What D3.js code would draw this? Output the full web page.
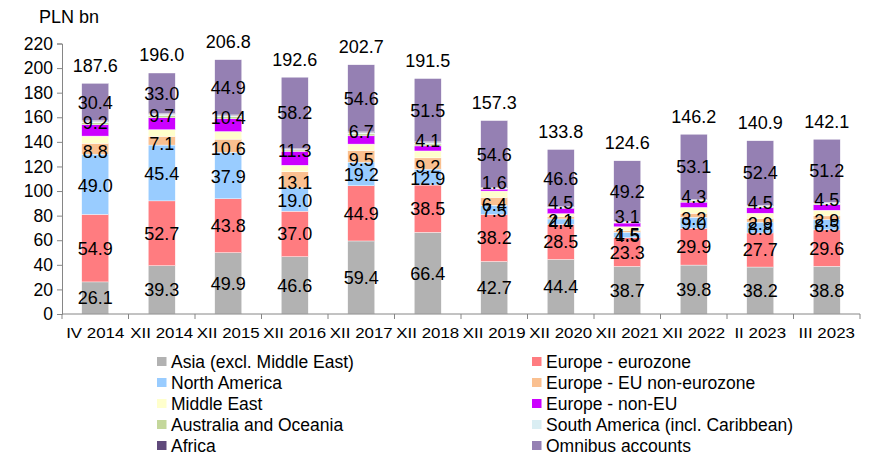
<!DOCTYPE html>
<html lang="en">
<head>
  <meta charset="UTF-8">
  <title>Foreign holders - PLN bn</title>
  <style>
    html, body {
      margin: 0;
      background-color: #ffffff;
    }
    svg text {
      font-family: "Liberation Sans", Arial, sans-serif;
      fill: #000;
    }
  </style>
</head>
<body>
  <svg class="chart" width="870" height="459"></svg>

  <script src="https://cdnjs.cloudflare.com/ajax/libs/d3/7.8.5/d3.min.js"></script>
  <script>
    const categories = ['IV 2014', 'XII 2014', 'XII 2015', 'XII 2016', 'XII 2017', 'XII 2018',
      'XII 2019', 'XII 2020', 'XII 2021', 'XII 2022', 'II 2023', 'III 2023'];

    // series, bottom of the stack first
    const asia = [26.1, 39.3, 49.9, 46.6, 59.4, 66.4, 42.7, 44.4, 38.7, 39.8, 38.2, 38.8];
    const eurozone = [54.9, 52.7, 43.8, 37.0, 44.9, 38.5, 38.2, 28.5, 23.3, 29.9, 27.7, 29.6];
    const northAmerica = [49.0, 45.4, 37.9, 19.0, 19.2, 12.9, 7.5, 4.4, 4.5, 9.0, 8.8, 8.5];
    const euNonEurozone = [8.8, 7.1, 10.6, 13.1, 9.5, 9.2, 6.4, 2.1, 1.5, 3.2, 2.9, 2.9];
    const middleEast = [5.9, 5.4, 6.2, 5.3, 5.2, 5.6, 5.2, 2.2, 2.9, 4.8, 4.4, 4.6];
    const europeNonEu = [9.2, 9.7, 10.4, 11.3, 6.7, 4.1, 1.6, 4.5, 3.1, 4.3, 4.5, 4.5];
    const southAmerica = [1.2, 1.2, 1.0, 0.6, 1.1, 1.2, 0.4, 0.4, 0.5, 0.7, 0.7, 0.7];
    const australia = [1.6, 1.7, 1.6, 1.1, 1.6, 1.6, 0.5, 0.5, 0.6, 1.0, 0.9, 0.9];
    const africa = [0.5, 0.5, 0.5, 0.4, 0.5, 0.5, 0.2, 0.2, 0.3, 0.4, 0.4, 0.4];
    const omnibus = [30.4, 33.0, 44.9, 58.2, 54.6, 51.5, 54.6, 46.6, 49.2, 53.1, 52.4, 51.2];
    const totals = [187.6, 196.0, 206.8, 192.6, 202.7, 191.5, 157.3, 133.8, 124.6, 146.2, 140.9, 142.1];

    const yTicks = [0, 20, 40, 60, 80, 100, 120, 140, 160, 180, 200, 220];

    // labelShift: nudge (px) of the in-bar value labels, as placed in the original
    const series = [
      { key: 'asia', name: 'Asia (excl. Middle East)', values: asia, color: '#b2b2b2', label: true, labelShift: 0 },
      { key: 'eurozone', name: 'Europe - eurozone', values: eurozone, color: '#ff7c80', label: true, labelShift: 0 },
      { key: 'northAmerica', name: 'North America', values: northAmerica, color: '#99ccff', label: true, labelShift: 1 },
      { key: 'euNonEurozone', name: 'Europe - EU non-eurozone', values: euNonEurozone, color: '#fac090', label: true, labelShift: 3 },
      { key: 'middleEast', name: 'Middle East', values: middleEast, color: '#ffffcc', label: false },
      { key: 'europeNonEu', name: 'Europe - non-EU', values: europeNonEu, color: '#cc00ff', label: true, labelShift: -8 },
      { key: 'australia', name: 'Australia and Oceania', values: australia, color: '#c4d79b', label: false },
      { key: 'southAmerica', name: 'South America (incl. Caribbean)', values: southAmerica, color: '#daeef3', label: false },
      { key: 'africa', name: 'Africa', values: africa, color: '#604a7b', label: false },
      { key: 'omnibus', name: 'Omnibus accounts', values: omnibus, color: '#9580b3', label: true, labelShift: 0 }
    ];

    const rows = categories.map((c, i) => {
      const row = { category: c };
      series.forEach(s => { row[s.key] = s.values[i]; });
      return row;
    });

    const svg = d3.select('svg.chart');
    const x = d3.scaleBand()
      .domain(categories)
      .range([62, 860])
      .paddingInner(0.594)
      .paddingOuter(0.297);
    const y = d3.scaleLinear()
      .domain([0, 220])
      .range([314, 43.5]);

    const stack = d3.stack().keys(series.map(s => s.key));
    const stacked = stack(rows);

    /**
     * Bars
     */
    const layers = svg.append('g').attr('class', 'bars')
      .selectAll('g')
      .data(stacked)
      .join('g')
      .attr('fill', (d, i) => series[i].color);

    layers.selectAll('rect')
      .data(d => d)
      .join('rect')
      .attr('x', d => x(d.data.category))
      .attr('width', x.bandwidth())
      .attr('y', d => y(d[1]))
      .attr('height', d => y(d[0]) - y(d[1]))
      .attr('stroke', '#ffffff')
      .attr('stroke-width', 0.4);

    /**
     * Axes
     */
    const yAxis = svg.append('g')
      .attr('transform', 'translate(62,0)')
      .call(d3.axisLeft(y).tickValues(yTicks).tickSize(5).tickPadding(4).tickFormat(d3.format('d')));
    yAxis.select('.domain').attr('stroke', '#868686');
    yAxis.selectAll('.tick line').attr('stroke', '#868686');
    yAxis.selectAll('.tick text')
      .attr('font-size', 17.5)
      .attr('font-family', '"Liberation Sans", Arial, sans-serif');

    const xAxis = svg.append('g')
      .attr('transform', 'translate(0,314)')
      .call(d3.axisBottom(x).tickSize(0).tickPadding(13));
    xAxis.select('.domain').attr('stroke', '#868686').attr('d', 'M62,0H860');
    xAxis.selectAll('.tick text')
      .attr('font-size', 15.5)
      .attr('transform', 'scale(1.09,1)')
      .attr('font-family', '"Liberation Sans", Arial, sans-serif');

    // tick marks between categories
    const boundaries = d3.range(categories.length + 1).map(i => x.step() * i + x.range()[0]);
    xAxis.selectAll('.sep')
      .data(boundaries)
      .join('line')
      .attr('class', 'sep')
      .attr('x1', d => d).attr('x2', d => d)
      .attr('y1', 0).attr('y2', 5)
      .attr('stroke', '#868686');

    svg.append('text')
      .attr('x', 39)
      .attr('y', 22.5)
      .attr('font-size', 18)
      .text('PLN bn');

    /**
     * Labels
     */
    const labelGroup = svg.append('g').attr('class', 'labels');
    stacked.forEach((layer, i) => {
      const s = series[i];
      if (!s.label) return;
      labelGroup.selectAll(null)
        .data(layer)
        .join('text')
        .attr('x', d => x(d.data.category) + x.bandwidth() / 2)
        .attr('y', d => (y(d[0]) + y(d[1])) / 2 + s.labelShift)
        .attr('dy', '0.36em')
        .attr('text-anchor', 'middle')
        .attr('font-size', 18)
        .text(d => d3.format('.1f')(d[1] - d[0]));
    });

    labelGroup.selectAll('.total')
      .data(categories)
      .join('text')
      .attr('class', 'total')
      .attr('x', d => x(d) + x.bandwidth() / 2)
      .attr('y', (d, i) => y(totals[i]) - 18)
      .attr('dy', '0.36em')
      .attr('text-anchor', 'middle')
      .attr('font-size', 18)
      .text((d, i) => d3.format('.1f')(totals[i]));

    /**
     * Legend
     */
    const legendOrder = ['asia', 'eurozone', 'northAmerica', 'euNonEurozone', 'middleEast',
      'europeNonEu', 'australia', 'southAmerica', 'africa', 'omnibus'];
    const legend = svg.append('g').attr('class', 'legend')
      .selectAll('g')
      .data(legendOrder.map(k => series.find(s => s.key === k)))
      .join('g')
      .attr('transform', (d, i) => `translate(${i % 2 === 0 ? 157 : 532},${361.5 + Math.floor(i / 2) * 21})`);

    legend.append('rect')
      .attr('x', 0)
      .attr('y', -4.5)
      .attr('width', 9.5)
      .attr('height', 9)
      .attr('fill', d => d.color);

    legend.append('text')
      .attr('x', 14)
      .attr('dy', '0.36em')
      .attr('font-size', 17.5)
      .text(d => d.name);
  </script>
</body>
</html>
